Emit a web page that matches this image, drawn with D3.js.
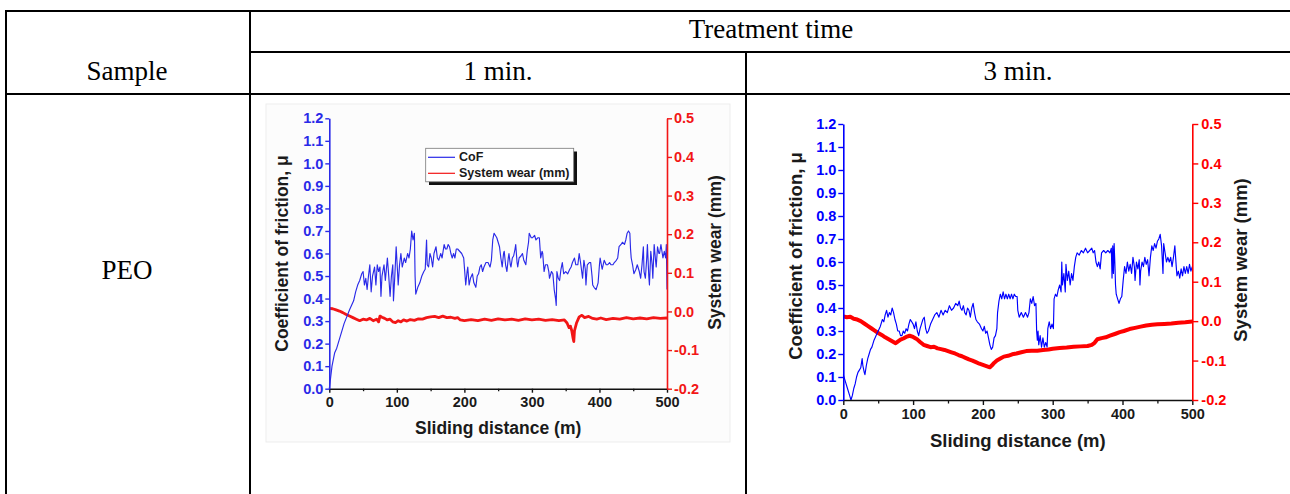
<!DOCTYPE html>
<html><head><meta charset="utf-8">
<script src="https://cdn.jsdelivr.net/npm/d3@7"></script>
<style>body{margin:0;background:#fff}</style>
</head><body><svg id="c" width="1290" height="494"></svg>
<script>
// ---------- DATA ----------
const headerTop = "Treatment time";
const colHeaders = ["1 min.", "3 min."];
const rowHeader = "Sample";
const sampleName = "PEO";
const xTicks = [0, 100, 200, 300, 400, 500];
const xMinorTicks = [50, 150, 250, 350, 450];
const cofTicks = [0.0,0.1,0.2,0.3,0.4,0.5,0.6,0.7,0.8,0.9,1.0,1.1,1.2];
const wearTicks = [-0.2,-0.1,0.0,0.1,0.2,0.3,0.4,0.5];
const xTitle = "Sliding distance (m)";
const cofTitle = "Coefficient of friction, \u03bc";
const wearTitle = "System wear (mm)";
const legendLabels = ["CoF", "System wear (mm)"];

// 1 min: coefficient of friction [distance m, mu]
const cof1 = [[0,0.0],[2,0.05],[4,0.1],[6,0.13],[8,0.16],[11,0.18],[15,0.22],[19,0.26],[22,0.29],[26,0.32],[30,0.35],[33,0.37],[36,0.39],[39,0.43],[42,0.46],[45,0.48],[48,0.51],[50,0.52],[52,0.46],[54,0.49],[56,0.44],[58,0.5],[60,0.55],[62,0.43],[64,0.5],[67,0.54],[69,0.46],[71,0.55],[73,0.52],[75,0.54],[76.5,0.41],[78,0.5],[81,0.55],[83,0.48],[86,0.58],[88,0.5],[90,0.41],[92,0.5],[94,0.55],[95,0.39],[97,0.5],[99,0.63],[101,0.52],[102,0.46],[104,0.55],[106,0.6],[108,0.54],[111,0.58],[113,0.56],[116,0.6],[118,0.58],[120,0.62],[122,0.7],[124,0.66],[126,0.69],[127,0.5],[128,0.42],[131,0.45],[134,0.47],[137,0.5],[140,0.52],[142,0.53],[144,0.66],[145,0.55],[147,0.54],[149,0.6],[151,0.58],[153,0.54],[155,0.6],[158,0.63],[160,0.58],[162,0.57],[165,0.6],[167,0.58],[170,0.64],[172,0.62],[174,0.62],[176,0.64],[178,0.63],[180,0.6],[182,0.58],[184,0.6],[186,0.58],[188,0.62],[190,0.62],[193,0.61],[196,0.6],[199,0.58],[201,0.5],[202,0.46],[204,0.52],[205,0.54],[207,0.46],[209,0.49],[212,0.51],[214,0.47],[217,0.45],[219,0.5],[221,0.51],[223,0.54],[225,0.55],[227,0.52],[229,0.54],[232,0.56],[235,0.56],[238,0.54],[240,0.57],[242,0.66],[244,0.69],[246,0.68],[248,0.67],[250,0.65],[252,0.63],[254,0.58],[256,0.54],[258,0.6],[259,0.61],[261,0.55],[263,0.52],[265,0.58],[266,0.6],[268,0.55],[269,0.54],[271,0.58],[273,0.59],[275,0.62],[276,0.64],[278,0.56],[279,0.54],[281,0.58],[284,0.59],[286,0.6],[288,0.57],[291,0.55],[293,0.61],[295,0.65],[296,0.69],[299,0.67],[301,0.67],[304,0.68],[306,0.66],[309,0.67],[311,0.67],[313,0.58],[315,0.61],[316,0.6],[318,0.52],[320,0.55],[323,0.55],[325,0.52],[326,0.49],[329,0.52],[331,0.51],[333,0.44],[335,0.4],[336,0.37],[337,0.52],[339,0.49],[341,0.48],[343,0.53],[345,0.56],[347,0.51],[350,0.52],[353,0.51],[356,0.53],[358,0.54],[360,0.56],[363,0.58],[365,0.55],[368,0.55],[370,0.6],[372,0.56],[375,0.49],[377,0.57],[379,0.53],[380,0.46],[382,0.55],[385,0.56],[387,0.56],[389,0.5],[390,0.46],[392,0.45],[395,0.44],[398,0.47],[400,0.55],[401,0.58],[404,0.53],[407,0.57],[410,0.55],[412,0.55],[415,0.56],[417,0.55],[420,0.55],[422,0.56],[425,0.57],[427,0.58],[429,0.63],[432,0.64],[434,0.65],[437,0.64],[439,0.66],[441,0.69],[443,0.7],[445,0.69],[446,0.62],[447,0.58],[449,0.55],[451,0.51],[454,0.53],[456,0.55],[459,0.52],[461,0.49],[463,0.55],[465,0.63],[466,0.52],[468,0.49],[470,0.58],[471,0.64],[473,0.5],[474,0.46],[476,0.61],[478,0.55],[479,0.49],[481,0.64],[483,0.57],[484,0.54],[486,0.63],[488,0.6],[489,0.6],[491,0.64],[493,0.6],[494,0.58],[496,0.61],[498,0.58],[499,0.64],[500,0.44]];

// 1 min: system wear [distance m, mm]
const wear1 = [[0,0.008],[5,0.007],[10,0.004],[15,0.001],[20,-0.003],[25,-0.008],[30,-0.012],[35,-0.016],[40,-0.02],[45,-0.024],[50,-0.02],[55,-0.022],[60,-0.018],[65,-0.024],[70,-0.02],[73,-0.027],[75,-0.012],[78,-0.015],[82,-0.018],[86,-0.022],[90,-0.02],[94,-0.027],[98,-0.029],[102,-0.024],[106,-0.027],[110,-0.022],[115,-0.025],[120,-0.021],[126,-0.023],[132,-0.019],[138,-0.02],[144,-0.016],[150,-0.014],[156,-0.013],[162,-0.016],[168,-0.012],[174,-0.016],[180,-0.015],[186,-0.018],[190,-0.016],[194,-0.022],[200,-0.024],[210,-0.021],[220,-0.024],[230,-0.02],[240,-0.023],[250,-0.019],[260,-0.022],[270,-0.02],[280,-0.023],[290,-0.019],[300,-0.022],[310,-0.02],[320,-0.023],[330,-0.021],[340,-0.024],[348,-0.022],[352,-0.03],[355,-0.042],[357,-0.038],[359,-0.05],[361,-0.07],[362,-0.078],[363,-0.05],[366,-0.03],[370,-0.014],[374,-0.01],[378,-0.016],[384,-0.013],[390,-0.018],[396,-0.02],[402,-0.017],[410,-0.021],[420,-0.018],[430,-0.02],[440,-0.016],[450,-0.019],[460,-0.017],[470,-0.019],[480,-0.016],[490,-0.018],[500,-0.017]];

// 3 min: coefficient of friction
const cof2 = [[0,0.11],[3,0.08],[6,0.05],[9,0.02],[11,0.0],[13,0.02],[15,0.05],[17,0.07],[19,0.1],[21,0.12],[23,0.13],[25,0.14],[27,0.18],[28,0.15],[30,0.12],[31,0.11],[33,0.15],[35,0.18],[37,0.2],[39,0.22],[41,0.23],[44,0.26],[47,0.28],[50,0.3],[53,0.32],[56,0.35],[58,0.34],[60,0.37],[62,0.39],[64,0.36],[66,0.38],[68,0.37],[70,0.4],[72,0.38],[74,0.35],[76,0.33],[78,0.3],[80,0.3],[82,0.28],[84,0.28],[86,0.3],[88,0.29],[90,0.31],[92,0.3],[94,0.33],[96,0.35],[98,0.34],[100,0.33],[102,0.31],[104,0.34],[106,0.3],[108,0.28],[110,0.31],[112,0.33],[114,0.35],[116,0.36],[118,0.31],[120,0.29],[122,0.3],[125,0.33],[128,0.35],[131,0.37],[134,0.38],[137,0.36],[140,0.39],[143,0.37],[146,0.39],[149,0.38],[152,0.41],[155,0.39],[158,0.4],[161,0.42],[164,0.41],[166,0.43],[168,0.4],[170,0.39],[172,0.41],[174,0.38],[176,0.37],[178,0.4],[180,0.39],[182,0.36],[184,0.4],[186,0.42],[188,0.38],[190,0.35],[192,0.34],[195,0.33],[198,0.31],[200,0.3],[202,0.32],[204,0.29],[206,0.3],[208,0.27],[210,0.24],[212,0.22],[214,0.23],[216,0.27],[218,0.28],[220,0.31],[221,0.38],[223,0.43],[225,0.46],[227,0.44],[229,0.47],[231,0.44],[233,0.46],[235,0.44],[237,0.46],[239,0.44],[241,0.46],[243,0.44],[245,0.46],[247,0.45],[249,0.45],[250,0.39],[252,0.36],[255,0.38],[258,0.36],[261,0.38],[264,0.36],[266,0.38],[268,0.44],[270,0.42],[272,0.45],[274,0.41],[276,0.42],[277,0.3],[278,0.26],[279,0.3],[280,0.24],[282,0.28],[284,0.23],[286,0.27],[288,0.23],[290,0.25],[292,0.23],[293,0.31],[295,0.34],[297,0.31],[299,0.33],[301,0.31],[302,0.44],[304,0.46],[306,0.45],[308,0.48],[310,0.5],[312,0.47],[313,0.6],[314,0.5],[316,0.55],[318,0.47],[319,0.59],[321,0.52],[323,0.56],[325,0.5],[327,0.55],[329,0.52],[331,0.58],[333,0.62],[335,0.64],[338,0.63],[341,0.65],[344,0.64],[347,0.66],[350,0.64],[353,0.65],[356,0.66],[358,0.64],[360,0.65],[362,0.6],[364,0.58],[366,0.6],[368,0.57],[370,0.64],[373,0.65],[376,0.64],[379,0.65],[382,0.64],[384,0.66],[385,0.53],[386,0.67],[387,0.55],[388,0.68],[389,0.6],[390,0.5],[391,0.46],[393,0.44],[395,0.42],[397,0.44],[399,0.45],[401,0.52],[403,0.58],[405,0.55],[407,0.6],[409,0.56],[411,0.59],[413,0.55],[415,0.62],[417,0.58],[418,0.52],[420,0.6],[422,0.57],[424,0.61],[425,0.5],[426,0.56],[428,0.6],[430,0.58],[432,0.62],[434,0.59],[436,0.61],[438,0.54],[440,0.62],[442,0.67],[444,0.65],[446,0.68],[448,0.66],[450,0.69],[452,0.7],[454,0.72],[456,0.67],[458,0.55],[459,0.68],[461,0.64],[463,0.6],[465,0.62],[467,0.6],[469,0.62],[471,0.58],[473,0.62],[475,0.67],[477,0.58],[478,0.54],[480,0.56],[482,0.53],[484,0.57],[486,0.54],[488,0.58],[490,0.55],[492,0.58],[494,0.55],[496,0.59],[498,0.56],[500,0.58]];

// 3 min: system wear
const wear2 = [[0,0.012],[5,0.01],[10,0.011],[15,0.006],[20,0.004],[25,0.0],[30,-0.006],[35,-0.012],[40,-0.018],[45,-0.024],[50,-0.03],[55,-0.035],[60,-0.041],[65,-0.046],[70,-0.051],[75,-0.056],[78,-0.052],[82,-0.047],[86,-0.044],[90,-0.04],[95,-0.037],[100,-0.04],[105,-0.045],[110,-0.053],[115,-0.06],[120,-0.063],[125,-0.066],[130,-0.065],[135,-0.069],[140,-0.071],[145,-0.073],[150,-0.076],[155,-0.079],[160,-0.082],[165,-0.086],[170,-0.089],[175,-0.093],[180,-0.097],[185,-0.1],[190,-0.104],[195,-0.108],[200,-0.111],[205,-0.114],[210,-0.117],[213,-0.112],[216,-0.106],[220,-0.1],[225,-0.095],[230,-0.09],[236,-0.088],[242,-0.084],[248,-0.082],[255,-0.079],[262,-0.076],[270,-0.075],[278,-0.075],[286,-0.073],[294,-0.072],[300,-0.07],[310,-0.068],[320,-0.067],[330,-0.065],[340,-0.064],[350,-0.063],[356,-0.06],[360,-0.055],[364,-0.046],[370,-0.043],[376,-0.041],[382,-0.037],[390,-0.032],[396,-0.028],[402,-0.025],[410,-0.02],[418,-0.017],[426,-0.014],[434,-0.011],[442,-0.009],[450,-0.008],[460,-0.007],[470,-0.006],[480,-0.004],[490,-0.003],[500,-0.001]];

// ---------- LAYOUT ----------
const svg = d3.select("#c");
svg.append("rect").attr("width",1290).attr("height",494).attr("fill","#fff");

const serif = "'Liberation Serif','Times New Roman',serif";
const sans = "'Liberation Sans',Arial,sans-serif";

// table grid
const grid = svg.append("g").attr("stroke","#000").attr("stroke-width",2);
[[6,11,1290,11],[6,10,6,494],[250,10,250,494],[250,52,1290,52],[6,94,1290,94],[746,52,746,494]]
  .forEach(l => grid.append("line").attr("x1",l[0]).attr("y1",l[1]).attr("x2",l[2]).attr("y2",l[3]));

const tt = svg.append("g").attr("font-family",serif).attr("font-size",27).attr("fill","#000").attr("text-anchor","middle");
tt.append("text").attr("x",771).attr("y",38).text(headerTop);
tt.append("text").attr("x",127).attr("y",80).text(rowHeader);
tt.append("text").attr("x",498).attr("y",80).text(colHeaders[0]);
tt.append("text").attr("x",1018).attr("y",80).text(colHeaders[1]);
tt.append("text").attr("x",127).attr("y",279).text(sampleName);

const panels = [
  {cof:cof1, wear:wear1, L:329.3, R:667, T:118.3, B:388.7, tickFs:14.5, titleFs:17.5,
   blue:"#2a2ae8", red:"#f21616", cofW:1.15, wearW:2.8, tl:4, lpad:2, rpad:2, xpad:4,
   xTitleY:434, lTitleX:282, lTitleY:253.5, rTitleX:715, rTitleY:252.5, bg:true, legend:true},
  {cof:cof2, wear:wear2, L:843.3, R:1192.3, T:124, B:400, tickFs:14.5, titleFs:18.5,
   blue:"#0000ff", red:"#ff0000", cofW:1.15, wearW:4, tl:5, lpad:2, rpad:3, xpad:4,
   xTitleY:447, lTitleX:795, lTitleY:256, rTitleX:1240, rTitleY:260, bg:false, legend:false}
];

panels.forEach(p => {
  const g = svg.append("g");
  if (p.bg) {
    g.append("rect").attr("x",266).attr("y",104).attr("width",464).attr("height",338)
      .attr("fill","#fcfcfc").attr("stroke","#ededed").attr("stroke-width",1);
  }
  const x = d3.scaleLinear().domain([0,500]).range([p.L,p.R]);
  const y = d3.scaleLinear().domain([0,1.2]).range([p.B,p.T]);
  const y2 = d3.scaleLinear().domain([-0.2,0.5]).range([p.B,p.T]);
  const fmt = d => d.toFixed(1);

  // data lines
  const lineC = d3.line().x(d=>x(d[0])).y(d=>y(d[1]));
  const lineW = d3.line().x(d=>x(d[0])).y(d=>y2(d[1]));
  g.append("path").datum(p.wear).attr("d",lineW).attr("fill","none")
    .attr("stroke",p.red).attr("stroke-width",p.wearW).attr("stroke-linejoin","round");
  g.append("path").datum(p.cof).attr("d",lineC).attr("fill","none")
    .attr("stroke",p.blue).attr("stroke-width",p.cofW).attr("stroke-linejoin","round");

  // x axis
  const xa = g.append("g").attr("transform",`translate(0,${p.B})`)
    .call(d3.axisBottom(x).tickValues(xTicks).tickFormat(d3.format("d")).tickSize(p.tl).tickSizeOuter(0).tickPadding(p.xpad));
  xa.select(".domain").attr("stroke","#111").attr("stroke-width",1.6);
  xa.selectAll(".tick line").attr("stroke","#111").attr("stroke-width",1.4);
  xa.selectAll("text").attr("font-family",sans).attr("font-weight","bold").attr("font-size",p.tickFs).attr("fill","#1a1a1a");
  const xm = g.append("g").attr("transform",`translate(0,${p.B})`)
    .call(d3.axisBottom(x).tickValues(xMinorTicks).tickFormat("").tickSize(p.tl-1.5).tickSizeOuter(0));
  xm.select(".domain").remove();
  xm.selectAll(".tick line").attr("stroke","#111").attr("stroke-width",1.3);

  // left axis
  const la = g.append("g").attr("transform",`translate(${p.L},0)`)
    .call(d3.axisLeft(y).tickValues(cofTicks).tickFormat(fmt).tickSize(p.tl).tickSizeOuter(0).tickPadding(p.lpad));
  la.select(".domain").attr("stroke",p.blue).attr("stroke-width",1.6);
  la.selectAll(".tick line").attr("stroke",p.blue).attr("stroke-width",1.4);
  la.selectAll("text").attr("font-family",sans).attr("font-weight","bold").attr("font-size",p.tickFs).attr("fill",p.blue);

  // right axis
  const ra = g.append("g").attr("transform",`translate(${p.R},0)`)
    .call(d3.axisRight(y2).tickValues(wearTicks).tickFormat(fmt).tickSize(p.tl+1).tickSizeOuter(0).tickPadding(p.rpad));
  ra.select(".domain").attr("stroke",p.red).attr("stroke-width",1.6);
  ra.selectAll(".tick line").attr("stroke",p.red).attr("stroke-width",1.4);
  ra.selectAll("text").attr("font-family",sans).attr("font-weight","bold").attr("font-size",p.tickFs).attr("fill",p.red);

  // titles
  g.append("text").attr("x",(p.L+p.R)/2).attr("y",p.xTitleY).attr("text-anchor","middle")
    .attr("font-family",sans).attr("font-weight","bold").attr("font-size",p.titleFs).attr("fill","#1a1a1a").text(xTitle);
  g.append("text").attr("transform",`translate(${p.lTitleX},${p.lTitleY}) rotate(-90)`)
    .attr("text-anchor","middle").attr("dominant-baseline","central")
    .attr("font-family",sans).attr("font-weight","bold").attr("font-size",p.titleFs).attr("fill","#1a1a1a").text(cofTitle);
  g.append("text").attr("transform",`translate(${p.rTitleX},${p.rTitleY}) rotate(-90)`)
    .attr("text-anchor","middle").attr("dominant-baseline","central")
    .attr("font-family",sans).attr("font-weight","bold").attr("font-size",p.titleFs).attr("fill","#1a1a1a").text(wearTitle);

  // legend
  if (p.legend) {
    const lg = g.append("g");
    lg.append("rect").attr("x",429).attr("y",151.5).attr("width",148).attr("height",33.5).attr("fill","#111");
    lg.append("rect").attr("x",425.7).attr("y",148.3).attr("width",148).attr("height",33.5)
      .attr("fill","#fff").attr("stroke","#777").attr("stroke-width",0.8);
    const cols = [p.blue, p.red];
    legendLabels.forEach((lab,i) => {
      const yy = 157.3 + i*16;
      lg.append("line").attr("x1",428).attr("x2",455).attr("y1",yy).attr("y2",yy)
        .attr("stroke",cols[i]).attr("stroke-width",1.2);
      lg.append("text").attr("x",459).attr("y",yy).attr("dominant-baseline","central")
        .attr("font-family",sans).attr("font-weight","bold").attr("font-size",12.5).attr("fill","#1a1a1a").text(lab);
    });
  }
});
</script></body></html>
